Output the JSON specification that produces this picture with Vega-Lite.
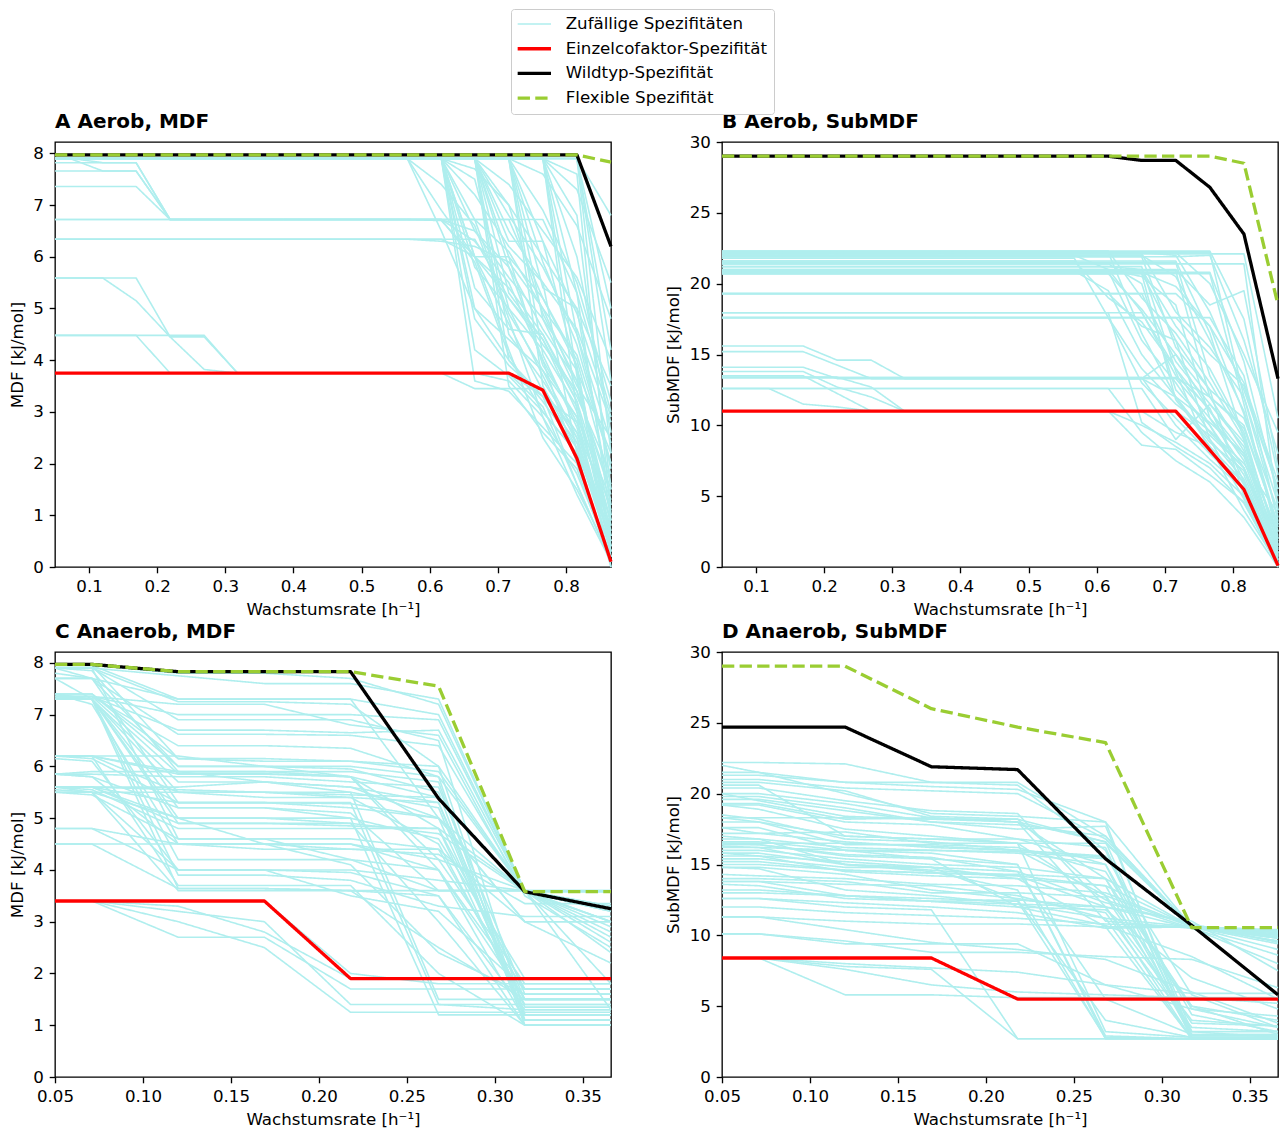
{
"$schema": "https://vega.github.io/schema/vega-lite/v6.json",
"padding": {"left": 8, "top": 8, "right": 2, "bottom": 2},
"config": {
  "font": "DejaVu Sans",
  "view": {"stroke": "black", "strokeWidth": 1.33},
  "axis": {"grid": false, "domain": false, "tickColor": "black", "tickWidth": 1.33, "tickSize": 5.8, "labelPadding": 5.8, "labelColor": "black", "titleColor": "black", "labelFontSize": 16.67, "titleFontSize": 16.67, "titleFontWeight": "normal", "labelFont": "DejaVu Sans", "titleFont": "DejaVu Sans", "titlePadding": 6.7, "labelFlush": false, "labelOverlap": false},
  "title": {"anchor": "start", "frame": "group", "fontSize": 20, "fontWeight": "bold", "font": "DejaVu Sans", "offset": 10, "baseline": "alphabetic", "color": "black"},
  "line": {"strokeJoin": "round", "strokeCap": "butt"}
},
"spacing": 1,
"resolve": {"scale": {"color": "shared", "strokeDash": "shared"}, "legend": {"color": "shared", "strokeDash": "shared"}},
"datasets": {
"A": [
{"s":1,"x":0.05,"y":7.91},{"s":1,"x":0.07,"y":7.91},{"s":1,"x":0.12,"y":7.66},{"s":1,"x":0.169,"y":7.66},{"s":1,"x":0.219,"y":6.72},{"s":1,"x":0.617,"y":6.72},{"s":1,"x":0.666,"y":5.9},{"s":1,"x":0.716,"y":4.1},{"s":1,"x":0.766,"y":3.0},{"s":1,"x":0.816,"y":2.2},{"s":1,"x":0.866,"y":0.6},
{"s":2,"x":0.05,"y":7.91},{"s":2,"x":0.07,"y":7.91},{"s":2,"x":0.12,"y":7.82},{"s":2,"x":0.169,"y":7.82},{"s":2,"x":0.219,"y":6.72},{"s":2,"x":0.567,"y":6.72},{"s":2,"x":0.617,"y":6.7},{"s":2,"x":0.666,"y":6.0},{"s":2,"x":0.716,"y":5.2},{"s":2,"x":0.766,"y":4.3},{"s":2,"x":0.816,"y":3.4},{"s":2,"x":0.866,"y":1.5},
{"s":3,"x":0.05,"y":7.82},{"s":3,"x":0.169,"y":7.82},{"s":3,"x":0.219,"y":6.72},{"s":3,"x":0.666,"y":6.72},{"s":3,"x":0.716,"y":6.1},{"s":3,"x":0.766,"y":5.0},{"s":3,"x":0.816,"y":4.1},{"s":3,"x":0.866,"y":2.0},
{"s":4,"x":0.05,"y":7.66},{"s":4,"x":0.169,"y":7.66},{"s":4,"x":0.219,"y":6.72},{"s":4,"x":0.766,"y":6.72},{"s":4,"x":0.816,"y":5.3},{"s":4,"x":0.866,"y":3.0},
{"s":5,"x":0.05,"y":7.36},{"s":5,"x":0.169,"y":7.36},{"s":5,"x":0.219,"y":6.72},{"s":5,"x":0.617,"y":6.72},{"s":5,"x":0.666,"y":6.5},{"s":5,"x":0.716,"y":5.8},{"s":5,"x":0.766,"y":4.6},{"s":5,"x":0.816,"y":3.6},{"s":5,"x":0.866,"y":1.0},
{"s":6,"x":0.05,"y":6.72},{"s":6,"x":0.617,"y":6.72},{"s":6,"x":0.666,"y":6.3},{"s":6,"x":0.716,"y":5.5},{"s":6,"x":0.766,"y":4.0},{"s":6,"x":0.816,"y":2.8},{"s":6,"x":0.866,"y":0.4},
{"s":7,"x":0.05,"y":6.34},{"s":7,"x":0.567,"y":6.34},{"s":7,"x":0.617,"y":6.3},{"s":7,"x":0.666,"y":6.2},{"s":7,"x":0.716,"y":5.9},{"s":7,"x":0.766,"y":5.0},{"s":7,"x":0.816,"y":3.5},{"s":7,"x":0.866,"y":2.5},
{"s":8,"x":0.05,"y":6.34},{"s":8,"x":0.617,"y":6.34},{"s":8,"x":0.666,"y":6.0},{"s":8,"x":0.716,"y":4.7},{"s":8,"x":0.766,"y":3.4},{"s":8,"x":0.816,"y":2.6},{"s":8,"x":0.866,"y":1.2},
{"s":9,"x":0.05,"y":5.59},{"s":9,"x":0.12,"y":5.59},{"s":9,"x":0.169,"y":5.15},{"s":9,"x":0.219,"y":4.45},{"s":9,"x":0.269,"y":4.45},{"s":9,"x":0.318,"y":3.75},{"s":9,"x":0.617,"y":3.75},{"s":9,"x":0.666,"y":3.45},{"s":9,"x":0.766,"y":3.45},{"s":9,"x":0.816,"y":2.5},{"s":9,"x":0.866,"y":0.3},
{"s":10,"x":0.05,"y":5.59},{"s":10,"x":0.169,"y":5.59},{"s":10,"x":0.219,"y":4.45},{"s":10,"x":0.269,"y":3.82},{"s":10,"x":0.318,"y":3.75},{"s":10,"x":0.666,"y":3.75},{"s":10,"x":0.716,"y":3.6},{"s":10,"x":0.766,"y":2.9},{"s":10,"x":0.816,"y":1.8},{"s":10,"x":0.866,"y":0.2},
{"s":11,"x":0.05,"y":4.48},{"s":11,"x":0.169,"y":4.48},{"s":11,"x":0.219,"y":3.75},{"s":11,"x":0.716,"y":3.75},{"s":11,"x":0.766,"y":3.3},{"s":11,"x":0.816,"y":2.4},{"s":11,"x":0.866,"y":0.8},
{"s":12,"x":0.05,"y":4.48},{"s":12,"x":0.269,"y":4.48},{"s":12,"x":0.318,"y":3.75},{"s":12,"x":0.716,"y":3.75},{"s":12,"x":0.766,"y":3.1},{"s":12,"x":0.816,"y":1.6},{"s":12,"x":0.866,"y":0.1},
{"s":13,"x":0.05,"y":7.9},{"s":13,"x":0.567,"y":7.9},{"s":13,"x":0.617,"y":6.5},{"s":13,"x":0.666,"y":5.0},{"s":13,"x":0.716,"y":4.0},{"s":13,"x":0.766,"y":3.2},{"s":13,"x":0.816,"y":2.3},{"s":13,"x":0.866,"y":0.5},
{"s":14,"x":0.05,"y":7.9},{"s":14,"x":0.567,"y":7.9},{"s":14,"x":0.617,"y":6.9},{"s":14,"x":0.666,"y":6.0},{"s":14,"x":0.716,"y":5.4},{"s":14,"x":0.766,"y":4.5},{"s":14,"x":0.816,"y":3.3},{"s":14,"x":0.866,"y":1.8},
{"s":15,"x":0.05,"y":7.9},{"s":15,"x":0.617,"y":7.9},{"s":15,"x":0.666,"y":3.6},{"s":15,"x":0.716,"y":3.4},{"s":15,"x":0.766,"y":2.7},{"s":15,"x":0.816,"y":2.0},{"s":15,"x":0.866,"y":0.2},
{"s":16,"x":0.05,"y":7.9},{"s":16,"x":0.617,"y":7.9},{"s":16,"x":0.666,"y":4.2},{"s":16,"x":0.716,"y":3.7},{"s":16,"x":0.766,"y":3.0},{"s":16,"x":0.816,"y":2.2},{"s":16,"x":0.866,"y":0.7},
{"s":17,"x":0.05,"y":7.9},{"s":17,"x":0.617,"y":7.9},{"s":17,"x":0.666,"y":5.0},{"s":17,"x":0.716,"y":4.4},{"s":17,"x":0.766,"y":3.8},{"s":17,"x":0.816,"y":2.9},{"s":17,"x":0.866,"y":1.3},
{"s":18,"x":0.05,"y":7.9},{"s":18,"x":0.617,"y":7.9},{"s":18,"x":0.666,"y":5.8},{"s":18,"x":0.716,"y":5.0},{"s":18,"x":0.766,"y":4.2},{"s":18,"x":0.816,"y":3.1},{"s":18,"x":0.866,"y":0.9},
{"s":19,"x":0.05,"y":7.9},{"s":19,"x":0.617,"y":7.9},{"s":19,"x":0.666,"y":6.5},{"s":19,"x":0.716,"y":5.6},{"s":19,"x":0.766,"y":4.8},{"s":19,"x":0.816,"y":3.8},{"s":19,"x":0.866,"y":2.2},
{"s":20,"x":0.05,"y":7.9},{"s":20,"x":0.617,"y":7.9},{"s":20,"x":0.666,"y":7.2},{"s":20,"x":0.716,"y":6.2},{"s":20,"x":0.766,"y":5.5},{"s":20,"x":0.816,"y":4.6},{"s":20,"x":0.866,"y":2.8},
{"s":21,"x":0.05,"y":7.9},{"s":21,"x":0.617,"y":7.9},{"s":21,"x":0.666,"y":7.7},{"s":21,"x":0.716,"y":7.0},{"s":21,"x":0.766,"y":6.0},{"s":21,"x":0.816,"y":5.0},{"s":21,"x":0.866,"y":3.5},
{"s":22,"x":0.05,"y":7.9},{"s":22,"x":0.666,"y":7.9},{"s":22,"x":0.716,"y":3.5},{"s":22,"x":0.766,"y":2.6},{"s":22,"x":0.816,"y":1.9},{"s":22,"x":0.866,"y":0.1},
{"s":23,"x":0.05,"y":7.9},{"s":23,"x":0.666,"y":7.9},{"s":23,"x":0.716,"y":4.5},{"s":23,"x":0.766,"y":3.6},{"s":23,"x":0.816,"y":2.6},{"s":23,"x":0.866,"y":0.5},
{"s":24,"x":0.05,"y":7.9},{"s":24,"x":0.666,"y":7.9},{"s":24,"x":0.716,"y":5.3},{"s":24,"x":0.766,"y":4.4},{"s":24,"x":0.816,"y":3.2},{"s":24,"x":0.866,"y":1.1},
{"s":25,"x":0.05,"y":7.9},{"s":25,"x":0.666,"y":7.9},{"s":25,"x":0.716,"y":6.0},{"s":25,"x":0.766,"y":5.2},{"s":25,"x":0.816,"y":4.0},{"s":25,"x":0.866,"y":1.6},
{"s":26,"x":0.05,"y":7.9},{"s":26,"x":0.666,"y":7.9},{"s":26,"x":0.716,"y":6.8},{"s":26,"x":0.766,"y":5.8},{"s":26,"x":0.816,"y":4.5},{"s":26,"x":0.866,"y":2.4},
{"s":27,"x":0.05,"y":7.9},{"s":27,"x":0.666,"y":7.9},{"s":27,"x":0.716,"y":7.4},{"s":27,"x":0.766,"y":6.5},{"s":27,"x":0.816,"y":5.6},{"s":27,"x":0.866,"y":4.0},
{"s":28,"x":0.05,"y":7.9},{"s":28,"x":0.716,"y":7.9},{"s":28,"x":0.766,"y":3.5},{"s":28,"x":0.816,"y":2.3},{"s":28,"x":0.866,"y":0.3},
{"s":29,"x":0.05,"y":7.9},{"s":29,"x":0.716,"y":7.9},{"s":29,"x":0.766,"y":4.8},{"s":29,"x":0.816,"y":3.4},{"s":29,"x":0.866,"y":1.4},
{"s":30,"x":0.05,"y":7.9},{"s":30,"x":0.716,"y":7.9},{"s":30,"x":0.766,"y":5.9},{"s":30,"x":0.816,"y":4.3},{"s":30,"x":0.866,"y":2.0},
{"s":31,"x":0.05,"y":7.9},{"s":31,"x":0.716,"y":7.9},{"s":31,"x":0.766,"y":6.9},{"s":31,"x":0.816,"y":5.5},{"s":31,"x":0.866,"y":3.2},
{"s":32,"x":0.05,"y":7.9},{"s":32,"x":0.716,"y":7.9},{"s":32,"x":0.766,"y":7.6},{"s":32,"x":0.816,"y":6.6},{"s":32,"x":0.866,"y":4.8},
{"s":33,"x":0.05,"y":7.9},{"s":33,"x":0.766,"y":7.9},{"s":33,"x":0.816,"y":3.0},{"s":33,"x":0.866,"y":0.6},
{"s":34,"x":0.05,"y":7.9},{"s":34,"x":0.766,"y":7.9},{"s":34,"x":0.816,"y":4.5},{"s":34,"x":0.866,"y":1.9},
{"s":35,"x":0.05,"y":7.9},{"s":35,"x":0.766,"y":7.9},{"s":35,"x":0.816,"y":6.0},{"s":35,"x":0.866,"y":2.6},
{"s":36,"x":0.05,"y":7.9},{"s":36,"x":0.766,"y":7.9},{"s":36,"x":0.816,"y":7.3},{"s":36,"x":0.866,"y":5.5},
{"s":37,"x":0.05,"y":7.9},{"s":37,"x":0.816,"y":7.9},{"s":37,"x":0.866,"y":6.8},
{"s":38,"x":0.05,"y":7.9},{"s":38,"x":0.816,"y":7.9},{"s":38,"x":0.866,"y":4.2},
{"s":39,"x":0.05,"y":7.9},{"s":39,"x":0.766,"y":7.9},{"s":39,"x":0.816,"y":7.6},{"s":39,"x":0.866,"y":1.0},
{"s":40,"x":0.05,"y":7.9},{"s":40,"x":0.617,"y":7.9},{"s":40,"x":0.666,"y":6.72},{"s":40,"x":0.716,"y":6.72},{"s":40,"x":0.766,"y":5.2},{"s":40,"x":0.816,"y":3.9},{"s":40,"x":0.866,"y":0.4},
{"s":41,"x":0.05,"y":7.9},{"s":41,"x":0.666,"y":7.9},{"s":41,"x":0.716,"y":6.3},{"s":41,"x":0.766,"y":6.3},{"s":41,"x":0.816,"y":4.9},{"s":41,"x":0.866,"y":2.9},
{"s":42,"x":0.05,"y":7.9},{"s":42,"x":0.617,"y":7.9},{"s":42,"x":0.666,"y":6.0},{"s":42,"x":0.716,"y":6.0},{"s":42,"x":0.766,"y":3.9},{"s":42,"x":0.816,"y":2.9},{"s":42,"x":0.866,"y":0.0},
{"s":43,"x":0.05,"y":7.9},{"s":43,"x":0.617,"y":7.9},{"s":43,"x":0.666,"y":4.8},{"s":43,"x":0.716,"y":3.9},{"s":43,"x":0.766,"y":3.3},{"s":43,"x":0.816,"y":1.6},{"s":43,"x":0.866,"y":0.1},
{"s":44,"x":0.05,"y":7.9},{"s":44,"x":0.617,"y":7.9},{"s":44,"x":0.666,"y":6.0},{"s":44,"x":0.716,"y":4.2},{"s":44,"x":0.766,"y":2.5},{"s":44,"x":0.816,"y":1.5},{"s":44,"x":0.866,"y":0.2},
{"s":45,"x":0.05,"y":7.9},{"s":45,"x":0.617,"y":7.9},{"s":45,"x":0.666,"y":7.5},{"s":45,"x":0.716,"y":5.0},{"s":45,"x":0.766,"y":3.7},{"s":45,"x":0.816,"y":2.4},{"s":45,"x":0.866,"y":0.3},
{"s":46,"x":0.05,"y":7.9},{"s":46,"x":0.666,"y":7.9},{"s":46,"x":0.716,"y":5.8},{"s":46,"x":0.766,"y":4.0},{"s":46,"x":0.816,"y":2.0},{"s":46,"x":0.866,"y":0.2},
{"s":47,"x":0.05,"y":7.9},{"s":47,"x":0.666,"y":7.9},{"s":47,"x":0.716,"y":4.0},{"s":47,"x":0.766,"y":3.3},{"s":47,"x":0.816,"y":2.8},{"s":47,"x":0.866,"y":0.9},
{"s":48,"x":0.05,"y":7.9},{"s":48,"x":0.666,"y":7.9},{"s":48,"x":0.716,"y":7.0},{"s":48,"x":0.766,"y":4.9},{"s":48,"x":0.816,"y":3.6},{"s":48,"x":0.866,"y":0.8},
{"s":49,"x":0.05,"y":7.9},{"s":49,"x":0.716,"y":7.9},{"s":49,"x":0.766,"y":4.1},{"s":49,"x":0.816,"y":2.7},{"s":49,"x":0.866,"y":0.4},
{"s":50,"x":0.05,"y":7.9},{"s":50,"x":0.716,"y":7.9},{"s":50,"x":0.766,"y":6.3},{"s":50,"x":0.816,"y":3.8},{"s":50,"x":0.866,"y":0.6},
{"s":51,"x":0.05,"y":7.9},{"s":51,"x":0.716,"y":7.9},{"s":51,"x":0.766,"y":5.4},{"s":51,"x":0.816,"y":5.0},{"s":51,"x":0.866,"y":1.2},
{"s":52,"x":0.05,"y":7.9},{"s":52,"x":0.766,"y":7.9},{"s":52,"x":0.816,"y":3.7},{"s":52,"x":0.866,"y":0.2},
{"s":53,"x":0.05,"y":7.9},{"s":53,"x":0.766,"y":7.9},{"s":53,"x":0.816,"y":5.3},{"s":53,"x":0.866,"y":0.9},
{"s":54,"x":0.05,"y":7.9},{"s":54,"x":0.766,"y":7.9},{"s":54,"x":0.816,"y":6.8},{"s":54,"x":0.866,"y":1.5},
{"s":55,"x":0.05,"y":7.9},{"s":55,"x":0.816,"y":7.9},{"s":55,"x":0.866,"y":2.2},
{"s":56,"x":0.05,"y":7.9},{"s":56,"x":0.816,"y":7.9},{"s":56,"x":0.866,"y":3.6},
{"s":57,"x":0.05,"y":7.9},{"s":57,"x":0.816,"y":7.9},{"s":57,"x":0.866,"y":5.0},
{"s":58,"x":0.05,"y":7.9},{"s":58,"x":0.567,"y":7.9},{"s":58,"x":0.617,"y":7.4},{"s":58,"x":0.666,"y":6.6},{"s":58,"x":0.716,"y":4.8},{"s":58,"x":0.766,"y":2.9},{"s":58,"x":0.816,"y":1.4},{"s":58,"x":0.866,"y":0.1},
{"s":59,"x":0.05,"y":6.72},{"s":59,"x":0.666,"y":6.72},{"s":59,"x":0.716,"y":4.9},{"s":59,"x":0.766,"y":3.8},{"s":59,"x":0.816,"y":2.5},{"s":59,"x":0.866,"y":0.5},
{"s":60,"x":0.05,"y":6.34},{"s":60,"x":0.666,"y":6.34},{"s":60,"x":0.716,"y":5.2},{"s":60,"x":0.766,"y":4.4},{"s":60,"x":0.816,"y":3.0},{"s":60,"x":0.866,"y":0.7},
{"s":61,"x":0.05,"y":7.9},{"s":61,"x":0.617,"y":7.9},{"s":61,"x":0.666,"y":5.4},{"s":61,"x":0.716,"y":4.6},{"s":61,"x":0.766,"y":4.5},{"s":61,"x":0.816,"y":3.2},{"s":61,"x":0.866,"y":0.3},
{"s":62,"x":0.05,"y":7.9},{"s":62,"x":0.666,"y":7.9},{"s":62,"x":0.716,"y":6.5},{"s":62,"x":0.766,"y":5.5},{"s":62,"x":0.816,"y":2.2},{"s":62,"x":0.866,"y":0.0}
],
"As": [
{"t":"E","x":0.05,"y":3.75},{"t":"E","x":0.716,"y":3.75},{"t":"E","x":0.766,"y":3.42},{"t":"E","x":0.816,"y":2.1},{"t":"E","x":0.866,"y":0.1},
{"t":"W","x":0.05,"y":7.97},{"t":"W","x":0.816,"y":7.97},{"t":"W","x":0.866,"y":6.2},
{"t":"F","x":0.05,"y":7.97},{"t":"F","x":0.816,"y":7.97},{"t":"F","x":0.866,"y":7.83}
],
"B": [
{"s":1,"x":0.05,"y":22.3},{"s":1,"x":0.617,"y":22.3},{"s":1,"x":0.666,"y":19.0},{"s":1,"x":0.716,"y":16.5},{"s":1,"x":0.766,"y":13.0},{"s":1,"x":0.816,"y":9.0},{"s":1,"x":0.866,"y":2.0},
{"s":2,"x":0.05,"y":22.1},{"s":2,"x":0.666,"y":22.1},{"s":2,"x":0.716,"y":18.0},{"s":2,"x":0.766,"y":15.5},{"s":2,"x":0.816,"y":12.0},{"s":2,"x":0.866,"y":4.5},
{"s":3,"x":0.05,"y":21.9},{"s":3,"x":0.716,"y":21.9},{"s":3,"x":0.766,"y":22.0},{"s":3,"x":0.816,"y":16.0},{"s":3,"x":0.866,"y":8.0},
{"s":4,"x":0.05,"y":21.6},{"s":4,"x":0.567,"y":21.6},{"s":4,"x":0.617,"y":19.0},{"s":4,"x":0.666,"y":17.3},{"s":4,"x":0.716,"y":14.0},{"s":4,"x":0.766,"y":11.0},{"s":4,"x":0.816,"y":7.5},{"s":4,"x":0.866,"y":1.0},
{"s":5,"x":0.05,"y":21.4},{"s":5,"x":0.617,"y":21.4},{"s":5,"x":0.666,"y":20.0},{"s":5,"x":0.716,"y":12.5},{"s":5,"x":0.766,"y":10.0},{"s":5,"x":0.816,"y":6.5},{"s":5,"x":0.866,"y":0.5},
{"s":6,"x":0.05,"y":20.9},{"s":6,"x":0.617,"y":20.9},{"s":6,"x":0.666,"y":16.0},{"s":6,"x":0.716,"y":13.0},{"s":6,"x":0.766,"y":9.5},{"s":6,"x":0.816,"y":7.0},{"s":6,"x":0.866,"y":1.5},
{"s":7,"x":0.05,"y":20.8},{"s":7,"x":0.666,"y":20.8},{"s":7,"x":0.716,"y":19.8},{"s":7,"x":0.766,"y":17.0},{"s":7,"x":0.816,"y":13.0},{"s":7,"x":0.866,"y":6.0},
{"s":8,"x":0.05,"y":20.7},{"s":8,"x":0.617,"y":20.7},{"s":8,"x":0.666,"y":18.2},{"s":8,"x":0.716,"y":15.0},{"s":8,"x":0.766,"y":12.0},{"s":8,"x":0.816,"y":10.0},{"s":8,"x":0.866,"y":3.0},
{"s":9,"x":0.05,"y":19.3},{"s":9,"x":0.666,"y":19.3},{"s":9,"x":0.716,"y":14.5},{"s":9,"x":0.766,"y":11.5},{"s":9,"x":0.816,"y":8.5},{"s":9,"x":0.866,"y":1.2},
{"s":10,"x":0.05,"y":17.95},{"s":10,"x":0.617,"y":17.95},{"s":10,"x":0.666,"y":10.2},{"s":10,"x":0.716,"y":8.5},{"s":10,"x":0.766,"y":7.0},{"s":10,"x":0.816,"y":4.5},{"s":10,"x":0.866,"y":0.2},
{"s":11,"x":0.05,"y":17.6},{"s":11,"x":0.617,"y":17.6},{"s":11,"x":0.666,"y":13.0},{"s":11,"x":0.716,"y":10.5},{"s":11,"x":0.766,"y":8.0},{"s":11,"x":0.816,"y":6.0},{"s":11,"x":0.866,"y":0.8},
{"s":12,"x":0.05,"y":15.6},{"s":12,"x":0.169,"y":15.6},{"s":12,"x":0.219,"y":14.6},{"s":12,"x":0.269,"y":14.6},{"s":12,"x":0.318,"y":13.3},{"s":12,"x":0.666,"y":13.3},{"s":12,"x":0.716,"y":12.0},{"s":12,"x":0.766,"y":9.0},{"s":12,"x":0.816,"y":6.2},{"s":12,"x":0.866,"y":0.3},
{"s":13,"x":0.05,"y":15.2},{"s":13,"x":0.169,"y":15.2},{"s":13,"x":0.269,"y":13.3},{"s":13,"x":0.666,"y":13.3},{"s":13,"x":0.716,"y":15.0},{"s":13,"x":0.766,"y":11.0},{"s":13,"x":0.816,"y":8.0},{"s":13,"x":0.866,"y":2.5},
{"s":14,"x":0.05,"y":14.1},{"s":14,"x":0.169,"y":14.1},{"s":14,"x":0.219,"y":13.3},{"s":14,"x":0.716,"y":13.3},{"s":14,"x":0.766,"y":10.5},{"s":14,"x":0.816,"y":7.8},{"s":14,"x":0.866,"y":1.8},
{"s":15,"x":0.05,"y":13.8},{"s":15,"x":0.169,"y":13.8},{"s":15,"x":0.219,"y":12.7},{"s":15,"x":0.269,"y":12.0},{"s":15,"x":0.318,"y":11.0},{"s":15,"x":0.617,"y":11.0},{"s":15,"x":0.666,"y":10.0},{"s":15,"x":0.716,"y":8.8},{"s":15,"x":0.766,"y":7.3},{"s":15,"x":0.816,"y":5.0},{"s":15,"x":0.866,"y":0.1},
{"s":16,"x":0.05,"y":13.5},{"s":16,"x":0.169,"y":13.5},{"s":16,"x":0.269,"y":11.0},{"s":16,"x":0.666,"y":11.0},{"s":16,"x":0.716,"y":9.5},{"s":16,"x":0.766,"y":8.5},{"s":16,"x":0.816,"y":6.0},{"s":16,"x":0.866,"y":0.6},
{"s":17,"x":0.05,"y":13.4},{"s":17,"x":0.219,"y":13.4},{"s":17,"x":0.269,"y":12.7},{"s":17,"x":0.318,"y":11.0},{"s":17,"x":0.716,"y":11.0},{"s":17,"x":0.766,"y":9.3},{"s":17,"x":0.816,"y":7.0},{"s":17,"x":0.866,"y":1.0},
{"s":18,"x":0.05,"y":12.6},{"s":18,"x":0.119,"y":12.6},{"s":18,"x":0.169,"y":11.5},{"s":18,"x":0.219,"y":11.3},{"s":18,"x":0.269,"y":11.0},{"s":18,"x":0.617,"y":11.0},{"s":18,"x":0.666,"y":8.6},{"s":18,"x":0.716,"y":8.3},{"s":18,"x":0.766,"y":6.5},{"s":18,"x":0.816,"y":4.6},{"s":18,"x":0.866,"y":0.0},
{"s":19,"x":0.05,"y":13.37},{"s":19,"x":0.666,"y":13.37},{"s":19,"x":0.716,"y":10.0},{"s":19,"x":0.766,"y":7.6},{"s":19,"x":0.816,"y":5.5},{"s":19,"x":0.866,"y":0.4},
{"s":20,"x":0.05,"y":12.6},{"s":20,"x":0.666,"y":12.6},{"s":20,"x":0.716,"y":9.0},{"s":20,"x":0.766,"y":11.5},{"s":20,"x":0.816,"y":8.8},{"s":20,"x":0.866,"y":2.2},
{"s":21,"x":0.05,"y":22.2},{"s":21,"x":0.766,"y":22.2},{"s":21,"x":0.816,"y":12.0},{"s":21,"x":0.866,"y":3.5},
{"s":22,"x":0.05,"y":21.0},{"s":22,"x":0.716,"y":21.0},{"s":22,"x":0.766,"y":18.5},{"s":22,"x":0.816,"y":19.5},{"s":22,"x":0.866,"y":7.0},
{"s":23,"x":0.05,"y":20.8},{"s":23,"x":0.766,"y":20.8},{"s":23,"x":0.816,"y":14.5},{"s":23,"x":0.866,"y":5.0},
{"s":24,"x":0.05,"y":22.0},{"s":24,"x":0.666,"y":22.0},{"s":24,"x":0.716,"y":20.5},{"s":24,"x":0.766,"y":16.0},{"s":24,"x":0.816,"y":11.0},{"s":24,"x":0.866,"y":2.8},
{"s":25,"x":0.05,"y":21.2},{"s":25,"x":0.617,"y":21.2},{"s":25,"x":0.666,"y":21.0},{"s":25,"x":0.716,"y":17.0},{"s":25,"x":0.766,"y":14.0},{"s":25,"x":0.816,"y":9.5},{"s":25,"x":0.866,"y":1.5},
{"s":26,"x":0.05,"y":20.9},{"s":26,"x":0.567,"y":20.9},{"s":26,"x":0.617,"y":19.5},{"s":26,"x":0.666,"y":15.0},{"s":26,"x":0.716,"y":12.0},{"s":26,"x":0.766,"y":10.2},{"s":26,"x":0.816,"y":8.0},{"s":26,"x":0.866,"y":0.9},
{"s":27,"x":0.05,"y":21.8},{"s":27,"x":0.567,"y":21.8},{"s":27,"x":0.617,"y":17.6},{"s":27,"x":0.666,"y":14.0},{"s":27,"x":0.716,"y":11.5},{"s":27,"x":0.766,"y":9.6},{"s":27,"x":0.816,"y":7.3},{"s":27,"x":0.866,"y":3.8},
{"s":28,"x":0.05,"y":22.2},{"s":28,"x":0.716,"y":22.2},{"s":28,"x":0.766,"y":20.0},{"s":28,"x":0.816,"y":15.0},{"s":28,"x":0.866,"y":9.5},
{"s":29,"x":0.05,"y":19.3},{"s":29,"x":0.617,"y":19.3},{"s":29,"x":0.666,"y":17.0},{"s":29,"x":0.716,"y":16.0},{"s":29,"x":0.766,"y":12.5},{"s":29,"x":0.816,"y":10.5},{"s":29,"x":0.866,"y":4.0},
{"s":30,"x":0.05,"y":17.6},{"s":30,"x":0.716,"y":17.6},{"s":30,"x":0.766,"y":15.0},{"s":30,"x":0.816,"y":12.8},{"s":30,"x":0.866,"y":5.5},
{"s":31,"x":0.05,"y":20.7},{"s":31,"x":0.666,"y":20.7},{"s":31,"x":0.716,"y":11.8},{"s":31,"x":0.766,"y":8.8},{"s":31,"x":0.816,"y":6.8},{"s":31,"x":0.866,"y":0.7},
{"s":32,"x":0.05,"y":21.5},{"s":32,"x":0.716,"y":21.5},{"s":32,"x":0.766,"y":13.5},{"s":32,"x":0.816,"y":9.3},{"s":32,"x":0.866,"y":1.6},
{"s":33,"x":0.05,"y":22.2},{"s":33,"x":0.617,"y":22.2},{"s":33,"x":0.666,"y":16.5},{"s":33,"x":0.716,"y":12.0},{"s":33,"x":0.766,"y":8.5},{"s":33,"x":0.816,"y":4.0},{"s":33,"x":0.866,"y":0.2},
{"s":34,"x":0.05,"y":21.9},{"s":34,"x":0.666,"y":21.9},{"s":34,"x":0.716,"y":15.5},{"s":34,"x":0.766,"y":12.5},{"s":34,"x":0.816,"y":5.0},{"s":34,"x":0.866,"y":0.3},
{"s":35,"x":0.05,"y":21.6},{"s":35,"x":0.716,"y":21.6},{"s":35,"x":0.766,"y":16.5},{"s":35,"x":0.816,"y":9.0},{"s":35,"x":0.866,"y":0.8},
{"s":36,"x":0.05,"y":21.0},{"s":36,"x":0.617,"y":21.0},{"s":36,"x":0.666,"y":20.5},{"s":36,"x":0.716,"y":18.5},{"s":36,"x":0.766,"y":10.5},{"s":36,"x":0.816,"y":7.0},{"s":36,"x":0.866,"y":1.0},
{"s":37,"x":0.05,"y":20.8},{"s":37,"x":0.666,"y":20.8},{"s":37,"x":0.716,"y":16.0},{"s":37,"x":0.766,"y":9.0},{"s":37,"x":0.816,"y":4.8},{"s":37,"x":0.866,"y":0.1},
{"s":38,"x":0.05,"y":19.3},{"s":38,"x":0.716,"y":19.3},{"s":38,"x":0.766,"y":17.0},{"s":38,"x":0.816,"y":10.8},{"s":38,"x":0.866,"y":2.5},
{"s":39,"x":0.05,"y":17.95},{"s":39,"x":0.666,"y":17.95},{"s":39,"x":0.716,"y":14.0},{"s":39,"x":0.766,"y":10.0},{"s":39,"x":0.816,"y":5.8},{"s":39,"x":0.866,"y":0.5},
{"s":40,"x":0.05,"y":17.6},{"s":40,"x":0.766,"y":17.6},{"s":40,"x":0.816,"y":13.5},{"s":40,"x":0.866,"y":3.2},
{"s":41,"x":0.05,"y":22.3},{"s":41,"x":0.766,"y":22.3},{"s":41,"x":0.816,"y":17.5},{"s":41,"x":0.866,"y":6.5},
{"s":42,"x":0.05,"y":22.1},{"s":42,"x":0.816,"y":22.1},{"s":42,"x":0.866,"y":10.5},
{"s":43,"x":0.05,"y":21.4},{"s":43,"x":0.816,"y":21.4},{"s":43,"x":0.866,"y":4.0},
{"s":44,"x":0.05,"y":20.9},{"s":44,"x":0.716,"y":20.9},{"s":44,"x":0.766,"y":12.0},{"s":44,"x":0.816,"y":8.2},{"s":44,"x":0.866,"y":1.3},
{"s":45,"x":0.05,"y":21.2},{"s":45,"x":0.666,"y":21.2},{"s":45,"x":0.716,"y":13.8},{"s":45,"x":0.766,"y":8.0},{"s":45,"x":0.816,"y":5.6},{"s":45,"x":0.866,"y":0.2},
{"s":46,"x":0.05,"y":13.37},{"s":46,"x":0.716,"y":13.37},{"s":46,"x":0.766,"y":12.0},{"s":46,"x":0.816,"y":9.8},{"s":46,"x":0.866,"y":3.0},
{"s":47,"x":0.05,"y":12.6},{"s":47,"x":0.617,"y":12.6},{"s":47,"x":0.666,"y":9.5},{"s":47,"x":0.716,"y":7.5},{"s":47,"x":0.766,"y":6.0},{"s":47,"x":0.816,"y":3.5},{"s":47,"x":0.866,"y":0.0},
{"s":48,"x":0.05,"y":22.0},{"s":48,"x":0.567,"y":22.0},{"s":48,"x":0.617,"y":21.0},{"s":48,"x":0.666,"y":18.0},{"s":48,"x":0.716,"y":13.5},{"s":48,"x":0.766,"y":11.2},{"s":48,"x":0.816,"y":6.0},{"s":48,"x":0.866,"y":0.5},
{"s":49,"x":0.05,"y":20.7},{"s":49,"x":0.766,"y":20.7},{"s":49,"x":0.816,"y":11.5},{"s":49,"x":0.866,"y":2.0},
{"s":50,"x":0.05,"y":22.2},{"s":50,"x":0.666,"y":22.2},{"s":50,"x":0.716,"y":22.0},{"s":50,"x":0.766,"y":18.0},{"s":50,"x":0.816,"y":12.5},{"s":50,"x":0.866,"y":5.5}
],
"Bs": [
{"t":"E","x":0.05,"y":11.0},{"t":"E","x":0.716,"y":11.0},{"t":"E","x":0.766,"y":8.25},{"t":"E","x":0.816,"y":5.47},{"t":"E","x":0.866,"y":0.1},
{"t":"W","x":0.05,"y":29.0},{"t":"W","x":0.617,"y":29.0},{"t":"W","x":0.666,"y":28.7},{"t":"W","x":0.716,"y":28.7},{"t":"W","x":0.766,"y":26.8},{"t":"W","x":0.816,"y":23.5},{"t":"W","x":0.866,"y":13.3},
{"t":"F","x":0.05,"y":29.0},{"t":"F","x":0.766,"y":29.0},{"t":"F","x":0.816,"y":28.5},{"t":"F","x":0.866,"y":18.5}
],
"C": [
{"s":1,"x":0.05,"y":7.95},{"s":1,"x":0.071,"y":7.95},{"s":1,"x":0.12,"y":7.3},{"s":1,"x":0.169,"y":7.3},{"s":1,"x":0.218,"y":7.3},{"s":1,"x":0.268,"y":5.0},{"s":1,"x":0.317,"y":3.58},{"s":1,"x":0.366,"y":3.0},
{"s":2,"x":0.05,"y":7.9},{"s":2,"x":0.071,"y":7.9},{"s":2,"x":0.12,"y":7.25},{"s":2,"x":0.169,"y":7.25},{"s":2,"x":0.218,"y":7.2},{"s":2,"x":0.268,"y":6.0},{"s":2,"x":0.317,"y":3.6},{"s":2,"x":0.366,"y":2.8},
{"s":3,"x":0.05,"y":7.9},{"s":3,"x":0.071,"y":7.7},{"s":3,"x":0.12,"y":7.3},{"s":3,"x":0.169,"y":7.3},{"s":3,"x":0.218,"y":7.3},{"s":3,"x":0.268,"y":7.0},{"s":3,"x":0.317,"y":3.6},{"s":3,"x":0.366,"y":3.3},
{"s":4,"x":0.05,"y":7.7},{"s":4,"x":0.071,"y":7.7},{"s":4,"x":0.12,"y":6.62},{"s":4,"x":0.169,"y":6.62},{"s":4,"x":0.218,"y":6.6},{"s":4,"x":0.268,"y":6.4},{"s":4,"x":0.317,"y":3.58},{"s":4,"x":0.366,"y":3.2},
{"s":5,"x":0.05,"y":7.4},{"s":5,"x":0.071,"y":7.4},{"s":5,"x":0.12,"y":6.15},{"s":5,"x":0.169,"y":6.15},{"s":5,"x":0.218,"y":6.1},{"s":5,"x":0.268,"y":5.9},{"s":5,"x":0.317,"y":3.6},{"s":5,"x":0.366,"y":3.58},
{"s":6,"x":0.05,"y":7.35},{"s":6,"x":0.071,"y":7.35},{"s":6,"x":0.12,"y":5.86},{"s":6,"x":0.169,"y":5.86},{"s":6,"x":0.218,"y":5.8},{"s":6,"x":0.268,"y":4.0},{"s":6,"x":0.317,"y":1.7},{"s":6,"x":0.366,"y":1.7},
{"s":7,"x":0.05,"y":7.35},{"s":7,"x":0.071,"y":7.3},{"s":7,"x":0.12,"y":5.5},{"s":7,"x":0.169,"y":5.5},{"s":7,"x":0.218,"y":5.5},{"s":7,"x":0.268,"y":5.2},{"s":7,"x":0.317,"y":1.2},{"s":7,"x":0.366,"y":1.2},
{"s":8,"x":0.05,"y":7.3},{"s":8,"x":0.071,"y":7.3},{"s":8,"x":0.12,"y":4.9},{"s":8,"x":0.169,"y":4.9},{"s":8,"x":0.218,"y":4.85},{"s":8,"x":0.268,"y":4.8},{"s":8,"x":0.317,"y":3.6},{"s":8,"x":0.366,"y":2.6},
{"s":9,"x":0.05,"y":7.3},{"s":9,"x":0.071,"y":7.3},{"s":9,"x":0.12,"y":3.64},{"s":9,"x":0.169,"y":3.64},{"s":9,"x":0.218,"y":3.6},{"s":9,"x":0.268,"y":3.5},{"s":9,"x":0.317,"y":1.0},{"s":9,"x":0.366,"y":1.0},
{"s":10,"x":0.05,"y":7.4},{"s":10,"x":0.071,"y":7.2},{"s":10,"x":0.12,"y":4.5},{"s":10,"x":0.169,"y":4.5},{"s":10,"x":0.218,"y":4.5},{"s":10,"x":0.268,"y":4.0},{"s":10,"x":0.317,"y":1.5},{"s":10,"x":0.366,"y":1.5},
{"s":11,"x":0.05,"y":7.95},{"s":11,"x":0.071,"y":7.95},{"s":11,"x":0.12,"y":6.15},{"s":11,"x":0.169,"y":6.1},{"s":11,"x":0.218,"y":6.1},{"s":11,"x":0.268,"y":6.0},{"s":11,"x":0.317,"y":1.1},{"s":11,"x":0.366,"y":1.1},
{"s":12,"x":0.05,"y":7.8},{"s":12,"x":0.071,"y":7.7},{"s":12,"x":0.12,"y":5.3},{"s":12,"x":0.169,"y":5.3},{"s":12,"x":0.218,"y":5.28},{"s":12,"x":0.268,"y":5.0},{"s":12,"x":0.317,"y":3.0},{"s":12,"x":0.366,"y":3.0},
{"s":13,"x":0.05,"y":7.35},{"s":13,"x":0.071,"y":7.35},{"s":13,"x":0.12,"y":6.7},{"s":13,"x":0.169,"y":6.7},{"s":13,"x":0.218,"y":6.65},{"s":13,"x":0.268,"y":6.7},{"s":13,"x":0.317,"y":3.6},{"s":13,"x":0.366,"y":2.4},
{"s":14,"x":0.05,"y":6.2},{"s":14,"x":0.071,"y":6.2},{"s":14,"x":0.12,"y":5.5},{"s":14,"x":0.169,"y":5.5},{"s":14,"x":0.218,"y":5.4},{"s":14,"x":0.268,"y":4.5},{"s":14,"x":0.317,"y":1.4},{"s":14,"x":0.366,"y":1.4},
{"s":15,"x":0.05,"y":6.15},{"s":15,"x":0.071,"y":6.1},{"s":15,"x":0.12,"y":4.0},{"s":15,"x":0.169,"y":4.0},{"s":15,"x":0.218,"y":3.95},{"s":15,"x":0.268,"y":3.5},{"s":15,"x":0.317,"y":1.3},{"s":15,"x":0.366,"y":1.3},
{"s":16,"x":0.05,"y":6.2},{"s":16,"x":0.071,"y":6.2},{"s":16,"x":0.12,"y":6.2},{"s":16,"x":0.169,"y":6.0},{"s":16,"x":0.218,"y":6.0},{"s":16,"x":0.268,"y":5.8},{"s":16,"x":0.317,"y":3.6},{"s":16,"x":0.366,"y":2.9},
{"s":17,"x":0.05,"y":5.85},{"s":17,"x":0.071,"y":5.85},{"s":17,"x":0.12,"y":5.8},{"s":17,"x":0.169,"y":5.8},{"s":17,"x":0.218,"y":5.7},{"s":17,"x":0.268,"y":5.6},{"s":17,"x":0.317,"y":1.6},{"s":17,"x":0.366,"y":1.6},
{"s":18,"x":0.05,"y":5.85},{"s":18,"x":0.071,"y":5.8},{"s":18,"x":0.12,"y":5.2},{"s":18,"x":0.169,"y":5.2},{"s":18,"x":0.218,"y":5.0},{"s":18,"x":0.268,"y":4.6},{"s":18,"x":0.317,"y":1.9},{"s":18,"x":0.366,"y":1.9},
{"s":19,"x":0.05,"y":5.6},{"s":19,"x":0.071,"y":5.6},{"s":19,"x":0.12,"y":5.55},{"s":19,"x":0.169,"y":5.5},{"s":19,"x":0.218,"y":5.45},{"s":19,"x":0.268,"y":5.4},{"s":19,"x":0.317,"y":3.6},{"s":19,"x":0.366,"y":1.8},
{"s":20,"x":0.05,"y":5.6},{"s":20,"x":0.071,"y":5.55},{"s":20,"x":0.12,"y":4.8},{"s":20,"x":0.169,"y":4.8},{"s":20,"x":0.218,"y":4.8},{"s":20,"x":0.268,"y":4.8},{"s":20,"x":0.317,"y":1.2},{"s":20,"x":0.366,"y":1.2},
{"s":21,"x":0.05,"y":5.55},{"s":21,"x":0.071,"y":5.5},{"s":21,"x":0.12,"y":3.6},{"s":21,"x":0.169,"y":3.6},{"s":21,"x":0.218,"y":3.6},{"s":21,"x":0.268,"y":3.6},{"s":21,"x":0.317,"y":3.6},{"s":21,"x":0.366,"y":2.7},
{"s":22,"x":0.05,"y":5.5},{"s":22,"x":0.071,"y":5.5},{"s":22,"x":0.12,"y":5.0},{"s":22,"x":0.169,"y":5.0},{"s":22,"x":0.218,"y":4.9},{"s":22,"x":0.268,"y":3.0},{"s":22,"x":0.317,"y":1.0},{"s":22,"x":0.366,"y":1.0},
{"s":23,"x":0.05,"y":4.8},{"s":23,"x":0.071,"y":4.8},{"s":23,"x":0.12,"y":4.5},{"s":23,"x":0.169,"y":4.5},{"s":23,"x":0.218,"y":4.4},{"s":23,"x":0.268,"y":4.4},{"s":23,"x":0.317,"y":3.0},{"s":23,"x":0.366,"y":3.0},
{"s":24,"x":0.05,"y":4.5},{"s":24,"x":0.071,"y":4.5},{"s":24,"x":0.12,"y":3.64},{"s":24,"x":0.169,"y":3.64},{"s":24,"x":0.218,"y":3.6},{"s":24,"x":0.268,"y":2.5},{"s":24,"x":0.317,"y":1.5},{"s":24,"x":0.366,"y":1.5},
{"s":25,"x":0.05,"y":4.5},{"s":25,"x":0.071,"y":4.5},{"s":25,"x":0.12,"y":4.5},{"s":25,"x":0.169,"y":4.4},{"s":25,"x":0.218,"y":4.4},{"s":25,"x":0.268,"y":4.3},{"s":25,"x":0.317,"y":3.35},{"s":25,"x":0.366,"y":3.35},
{"s":26,"x":0.05,"y":3.4},{"s":26,"x":0.071,"y":3.4},{"s":26,"x":0.12,"y":2.7},{"s":26,"x":0.169,"y":2.7},{"s":26,"x":0.218,"y":1.7},{"s":26,"x":0.268,"y":1.7},{"s":26,"x":0.317,"y":1.7},{"s":26,"x":0.366,"y":1.7},
{"s":27,"x":0.05,"y":3.4},{"s":27,"x":0.071,"y":3.4},{"s":27,"x":0.12,"y":3.2},{"s":27,"x":0.169,"y":3.0},{"s":27,"x":0.218,"y":1.4},{"s":27,"x":0.268,"y":1.4},{"s":27,"x":0.317,"y":1.3},{"s":27,"x":0.366,"y":1.3},
{"s":28,"x":0.05,"y":3.4},{"s":28,"x":0.071,"y":3.4},{"s":28,"x":0.12,"y":3.0},{"s":28,"x":0.169,"y":2.5},{"s":28,"x":0.218,"y":1.25},{"s":28,"x":0.268,"y":1.25},{"s":28,"x":0.317,"y":1.25},{"s":28,"x":0.366,"y":1.25},
{"s":29,"x":0.05,"y":3.4},{"s":29,"x":0.071,"y":3.4},{"s":29,"x":0.12,"y":3.3},{"s":29,"x":0.169,"y":2.8},{"s":29,"x":0.218,"y":1.9},{"s":29,"x":0.268,"y":1.9},{"s":29,"x":0.317,"y":1.9},{"s":29,"x":0.366,"y":1.9},
{"s":30,"x":0.05,"y":3.4},{"s":30,"x":0.071,"y":3.4},{"s":30,"x":0.12,"y":3.4},{"s":30,"x":0.169,"y":3.4},{"s":30,"x":0.218,"y":2.0},{"s":30,"x":0.268,"y":1.8},{"s":30,"x":0.317,"y":1.8},{"s":30,"x":0.366,"y":1.8},
{"s":31,"x":0.05,"y":7.95},{"s":31,"x":0.071,"y":7.95},{"s":31,"x":0.12,"y":7.8},{"s":31,"x":0.169,"y":7.8},{"s":31,"x":0.218,"y":7.7},{"s":31,"x":0.268,"y":7.2},{"s":31,"x":0.317,"y":3.6},{"s":31,"x":0.366,"y":1.3},
{"s":32,"x":0.05,"y":7.9},{"s":32,"x":0.071,"y":7.9},{"s":32,"x":0.12,"y":7.75},{"s":32,"x":0.169,"y":7.6},{"s":32,"x":0.218,"y":7.6},{"s":32,"x":0.268,"y":7.3},{"s":32,"x":0.317,"y":3.58},{"s":32,"x":0.366,"y":3.58},
{"s":33,"x":0.05,"y":7.35},{"s":33,"x":0.071,"y":7.35},{"s":33,"x":0.12,"y":7.2},{"s":33,"x":0.169,"y":7.2},{"s":33,"x":0.218,"y":6.8},{"s":33,"x":0.268,"y":6.6},{"s":33,"x":0.317,"y":3.5},{"s":33,"x":0.366,"y":2.5},
{"s":34,"x":0.05,"y":7.3},{"s":34,"x":0.071,"y":7.3},{"s":34,"x":0.12,"y":5.7},{"s":34,"x":0.169,"y":5.7},{"s":34,"x":0.218,"y":5.5},{"s":34,"x":0.268,"y":1.5},{"s":34,"x":0.317,"y":1.5},{"s":34,"x":0.366,"y":1.5},
{"s":35,"x":0.05,"y":7.7},{"s":35,"x":0.071,"y":7.3},{"s":35,"x":0.12,"y":4.2},{"s":35,"x":0.169,"y":4.2},{"s":35,"x":0.218,"y":4.2},{"s":35,"x":0.268,"y":4.0},{"s":35,"x":0.317,"y":1.1},{"s":35,"x":0.366,"y":1.1},
{"s":36,"x":0.05,"y":6.2},{"s":36,"x":0.071,"y":6.15},{"s":36,"x":0.12,"y":5.3},{"s":36,"x":0.169,"y":5.3},{"s":36,"x":0.218,"y":5.3},{"s":36,"x":0.268,"y":1.4},{"s":36,"x":0.317,"y":1.4},{"s":36,"x":0.366,"y":1.4},
{"s":37,"x":0.05,"y":5.6},{"s":37,"x":0.071,"y":5.6},{"s":37,"x":0.12,"y":5.6},{"s":37,"x":0.169,"y":5.7},{"s":37,"x":0.218,"y":5.6},{"s":37,"x":0.268,"y":5.0},{"s":37,"x":0.317,"y":3.0},{"s":37,"x":0.366,"y":2.2},
{"s":38,"x":0.05,"y":5.85},{"s":38,"x":0.071,"y":5.9},{"s":38,"x":0.12,"y":5.9},{"s":38,"x":0.169,"y":5.7},{"s":38,"x":0.218,"y":5.6},{"s":38,"x":0.268,"y":5.3},{"s":38,"x":0.317,"y":1.5},{"s":38,"x":0.366,"y":1.5},
{"s":39,"x":0.05,"y":5.6},{"s":39,"x":0.071,"y":5.5},{"s":39,"x":0.12,"y":4.0},{"s":39,"x":0.169,"y":4.0},{"s":39,"x":0.218,"y":4.0},{"s":39,"x":0.268,"y":3.8},{"s":39,"x":0.317,"y":3.6},{"s":39,"x":0.366,"y":3.6},
{"s":40,"x":0.05,"y":7.35},{"s":40,"x":0.071,"y":7.3},{"s":40,"x":0.12,"y":5.0},{"s":40,"x":0.169,"y":5.0},{"s":40,"x":0.218,"y":5.0},{"s":40,"x":0.268,"y":1.2},{"s":40,"x":0.317,"y":1.2},{"s":40,"x":0.366,"y":1.2},
{"s":41,"x":0.05,"y":7.4},{"s":41,"x":0.071,"y":7.4},{"s":41,"x":0.12,"y":6.0},{"s":41,"x":0.169,"y":6.0},{"s":41,"x":0.218,"y":5.95},{"s":41,"x":0.268,"y":5.5},{"s":41,"x":0.317,"y":1.0},{"s":41,"x":0.366,"y":1.0},
{"s":42,"x":0.05,"y":5.5},{"s":42,"x":0.071,"y":5.45},{"s":42,"x":0.12,"y":4.6},{"s":42,"x":0.169,"y":4.6},{"s":42,"x":0.218,"y":4.2},{"s":42,"x":0.268,"y":3.6},{"s":42,"x":0.317,"y":3.6},{"s":42,"x":0.366,"y":3.0},
{"s":43,"x":0.05,"y":4.8},{"s":43,"x":0.071,"y":4.8},{"s":43,"x":0.12,"y":4.0},{"s":43,"x":0.169,"y":4.0},{"s":43,"x":0.218,"y":3.5},{"s":43,"x":0.268,"y":3.2},{"s":43,"x":0.317,"y":1.7},{"s":43,"x":0.366,"y":1.7},
{"s":44,"x":0.05,"y":7.9},{"s":44,"x":0.071,"y":7.85},{"s":44,"x":0.12,"y":5.9},{"s":44,"x":0.169,"y":5.9},{"s":44,"x":0.218,"y":5.8},{"s":44,"x":0.268,"y":5.4},{"s":44,"x":0.317,"y":3.58},{"s":44,"x":0.366,"y":3.58},
{"s":45,"x":0.05,"y":7.3},{"s":45,"x":0.071,"y":7.3},{"s":45,"x":0.12,"y":3.9},{"s":45,"x":0.169,"y":3.9},{"s":45,"x":0.218,"y":3.8},{"s":45,"x":0.268,"y":3.3},{"s":45,"x":0.317,"y":3.1},{"s":45,"x":0.366,"y":3.1},
{"s":46,"x":0.05,"y":5.6},{"s":46,"x":0.071,"y":5.6},{"s":46,"x":0.12,"y":5.0},{"s":46,"x":0.169,"y":4.5},{"s":46,"x":0.218,"y":4.1},{"s":46,"x":0.268,"y":2.4},{"s":46,"x":0.317,"y":1.6},{"s":46,"x":0.366,"y":1.6},
{"s":47,"x":0.05,"y":6.2},{"s":47,"x":0.071,"y":6.2},{"s":47,"x":0.12,"y":5.85},{"s":47,"x":0.169,"y":5.85},{"s":47,"x":0.218,"y":5.8},{"s":47,"x":0.268,"y":4.2},{"s":47,"x":0.317,"y":1.8},{"s":47,"x":0.366,"y":1.8},
{"s":48,"x":0.05,"y":7.9},{"s":48,"x":0.071,"y":7.9},{"s":48,"x":0.12,"y":6.9},{"s":48,"x":0.169,"y":6.9},{"s":48,"x":0.218,"y":6.9},{"s":48,"x":0.268,"y":6.5},{"s":48,"x":0.317,"y":1.2},{"s":48,"x":0.366,"y":1.2},
{"s":49,"x":0.05,"y":7.35},{"s":49,"x":0.071,"y":7.35},{"s":49,"x":0.12,"y":6.4},{"s":49,"x":0.169,"y":6.4},{"s":49,"x":0.218,"y":6.35},{"s":49,"x":0.268,"y":5.8},{"s":49,"x":0.317,"y":1.0},{"s":49,"x":0.366,"y":1.0},
{"s":50,"x":0.05,"y":7.4},{"s":50,"x":0.071,"y":7.3},{"s":50,"x":0.12,"y":5.2},{"s":50,"x":0.169,"y":5.2},{"s":50,"x":0.218,"y":5.1},{"s":50,"x":0.268,"y":3.6},{"s":50,"x":0.317,"y":3.6},{"s":50,"x":0.366,"y":3.3},
{"s":51,"x":0.05,"y":6.2},{"s":51,"x":0.071,"y":6.2},{"s":51,"x":0.12,"y":5.9},{"s":51,"x":0.169,"y":5.9},{"s":51,"x":0.218,"y":5.9},{"s":51,"x":0.268,"y":5.7},{"s":51,"x":0.317,"y":1.1},{"s":51,"x":0.366,"y":1.1},
{"s":52,"x":0.05,"y":5.6},{"s":52,"x":0.071,"y":5.6},{"s":52,"x":0.12,"y":5.3},{"s":52,"x":0.169,"y":5.3},{"s":52,"x":0.218,"y":5.2},{"s":52,"x":0.268,"y":5.0},{"s":52,"x":0.317,"y":1.35},{"s":52,"x":0.366,"y":1.35},
{"s":53,"x":0.05,"y":5.85},{"s":53,"x":0.071,"y":5.8},{"s":53,"x":0.12,"y":4.5},{"s":53,"x":0.169,"y":4.5},{"s":53,"x":0.218,"y":4.5},{"s":53,"x":0.268,"y":4.2},{"s":53,"x":0.317,"y":3.6},{"s":53,"x":0.366,"y":3.0},
{"s":54,"x":0.05,"y":7.7},{"s":54,"x":0.071,"y":7.7},{"s":54,"x":0.12,"y":6.0},{"s":54,"x":0.169,"y":6.0},{"s":54,"x":0.218,"y":5.8},{"s":54,"x":0.268,"y":4.8},{"s":54,"x":0.317,"y":1.7},{"s":54,"x":0.366,"y":1.7},
{"s":55,"x":0.05,"y":7.35},{"s":55,"x":0.071,"y":7.35},{"s":55,"x":0.12,"y":7.0},{"s":55,"x":0.169,"y":7.0},{"s":55,"x":0.218,"y":7.0},{"s":55,"x":0.268,"y":6.9},{"s":55,"x":0.317,"y":3.6},{"s":55,"x":0.366,"y":3.6},
{"s":56,"x":0.05,"y":5.5},{"s":56,"x":0.071,"y":5.5},{"s":56,"x":0.12,"y":5.5},{"s":56,"x":0.169,"y":5.4},{"s":56,"x":0.218,"y":5.4},{"s":56,"x":0.268,"y":5.3},{"s":56,"x":0.317,"y":1.2},{"s":56,"x":0.366,"y":1.2},
{"s":57,"x":0.05,"y":7.9},{"s":57,"x":0.071,"y":7.9},{"s":57,"x":0.12,"y":4.6},{"s":57,"x":0.169,"y":4.6},{"s":57,"x":0.218,"y":4.6},{"s":57,"x":0.268,"y":4.4},{"s":57,"x":0.317,"y":1.5},{"s":57,"x":0.366,"y":1.5},
{"s":58,"x":0.05,"y":6.2},{"s":58,"x":0.071,"y":6.2},{"s":58,"x":0.12,"y":3.7},{"s":58,"x":0.169,"y":3.7},{"s":58,"x":0.218,"y":3.7},{"s":58,"x":0.268,"y":2.0},{"s":58,"x":0.317,"y":1.0},{"s":58,"x":0.366,"y":1.0},
{"s":59,"x":0.05,"y":5.6},{"s":59,"x":0.071,"y":5.6},{"s":59,"x":0.12,"y":4.9},{"s":59,"x":0.169,"y":4.9},{"s":59,"x":0.218,"y":4.9},{"s":59,"x":0.268,"y":4.7},{"s":59,"x":0.317,"y":3.58},{"s":59,"x":0.366,"y":3.2}
],
"Cs": [
{"t":"E","x":0.05,"y":3.4},{"t":"E","x":0.169,"y":3.4},{"t":"E","x":0.218,"y":1.9},{"t":"E","x":0.366,"y":1.9},
{"t":"W","x":0.05,"y":7.97},{"t":"W","x":0.071,"y":7.97},{"t":"W","x":0.12,"y":7.83},{"t":"W","x":0.218,"y":7.83},{"t":"W","x":0.268,"y":5.38},{"t":"W","x":0.317,"y":3.58},{"t":"W","x":0.366,"y":3.25},
{"t":"F","x":0.05,"y":7.97},{"t":"F","x":0.071,"y":7.97},{"t":"F","x":0.12,"y":7.83},{"t":"F","x":0.218,"y":7.83},{"t":"F","x":0.268,"y":7.55},{"t":"F","x":0.317,"y":3.58},{"t":"F","x":0.366,"y":3.58}
],
"D": [
{"s":1,"x":0.05,"y":22.2},{"s":1,"x":0.071,"y":22.2},{"s":1,"x":0.12,"y":22.1},{"s":1,"x":0.169,"y":20.8},{"s":1,"x":0.218,"y":20.8},{"s":1,"x":0.268,"y":17.0},{"s":1,"x":0.317,"y":10.6},{"s":1,"x":0.366,"y":9.8},
{"s":2,"x":0.05,"y":22.0},{"s":2,"x":0.071,"y":21.5},{"s":2,"x":0.12,"y":20.8},{"s":2,"x":0.169,"y":20.8},{"s":2,"x":0.218,"y":20.6},{"s":2,"x":0.268,"y":16.0},{"s":2,"x":0.317,"y":2.7},{"s":2,"x":0.366,"y":2.7},
{"s":3,"x":0.05,"y":21.3},{"s":3,"x":0.071,"y":21.3},{"s":3,"x":0.12,"y":20.8},{"s":3,"x":0.169,"y":20.5},{"s":3,"x":0.218,"y":20.3},{"s":3,"x":0.268,"y":18.0},{"s":3,"x":0.317,"y":10.6},{"s":3,"x":0.366,"y":10.0},
{"s":4,"x":0.05,"y":20.8},{"s":4,"x":0.071,"y":20.8},{"s":4,"x":0.12,"y":20.2},{"s":4,"x":0.169,"y":18.4},{"s":4,"x":0.218,"y":18.2},{"s":4,"x":0.268,"y":16.6},{"s":4,"x":0.317,"y":3.0},{"s":4,"x":0.366,"y":3.0},
{"s":5,"x":0.05,"y":20.0},{"s":5,"x":0.071,"y":20.0},{"s":5,"x":0.12,"y":19.3},{"s":5,"x":0.169,"y":18.3},{"s":5,"x":0.218,"y":18.0},{"s":5,"x":0.268,"y":14.0},{"s":5,"x":0.317,"y":10.6},{"s":5,"x":0.366,"y":9.6},
{"s":6,"x":0.05,"y":20.0},{"s":6,"x":0.071,"y":19.5},{"s":6,"x":0.12,"y":18.4},{"s":6,"x":0.169,"y":18.2},{"s":6,"x":0.218,"y":18.2},{"s":6,"x":0.268,"y":12.8},{"s":6,"x":0.317,"y":5.0},{"s":6,"x":0.366,"y":4.0},
{"s":7,"x":0.05,"y":19.2},{"s":7,"x":0.071,"y":19.2},{"s":7,"x":0.12,"y":18.0},{"s":7,"x":0.169,"y":17.8},{"s":7,"x":0.218,"y":16.8},{"s":7,"x":0.268,"y":15.0},{"s":7,"x":0.317,"y":2.7},{"s":7,"x":0.366,"y":2.7},
{"s":8,"x":0.05,"y":19.2},{"s":8,"x":0.071,"y":18.9},{"s":8,"x":0.12,"y":17.5},{"s":8,"x":0.169,"y":17.0},{"s":8,"x":0.218,"y":16.5},{"s":8,"x":0.268,"y":3.2},{"s":8,"x":0.317,"y":2.8},{"s":8,"x":0.366,"y":2.8},
{"s":9,"x":0.05,"y":18.3},{"s":9,"x":0.071,"y":18.3},{"s":9,"x":0.12,"y":18.3},{"s":9,"x":0.169,"y":18.2},{"s":9,"x":0.218,"y":18.0},{"s":9,"x":0.268,"y":11.0},{"s":9,"x":0.317,"y":10.5},{"s":9,"x":0.366,"y":8.0},
{"s":10,"x":0.05,"y":18.3},{"s":10,"x":0.071,"y":18.0},{"s":10,"x":0.12,"y":16.4},{"s":10,"x":0.169,"y":16.4},{"s":10,"x":0.218,"y":16.2},{"s":10,"x":0.268,"y":14.5},{"s":10,"x":0.317,"y":4.8},{"s":10,"x":0.366,"y":4.3},
{"s":11,"x":0.05,"y":17.6},{"s":11,"x":0.071,"y":17.6},{"s":11,"x":0.12,"y":16.0},{"s":11,"x":0.169,"y":15.8},{"s":11,"x":0.218,"y":15.0},{"s":11,"x":0.268,"y":2.9},{"s":11,"x":0.317,"y":2.7},{"s":11,"x":0.366,"y":2.7},
{"s":12,"x":0.05,"y":17.6},{"s":12,"x":0.071,"y":17.2},{"s":12,"x":0.12,"y":17.3},{"s":12,"x":0.169,"y":16.5},{"s":12,"x":0.218,"y":16.5},{"s":12,"x":0.268,"y":12.5},{"s":12,"x":0.317,"y":10.5},{"s":12,"x":0.366,"y":10.2},
{"s":13,"x":0.05,"y":16.5},{"s":13,"x":0.071,"y":16.5},{"s":13,"x":0.12,"y":16.5},{"s":13,"x":0.169,"y":16.3},{"s":13,"x":0.218,"y":16.0},{"s":13,"x":0.268,"y":15.6},{"s":13,"x":0.317,"y":5.8},{"s":13,"x":0.366,"y":3.5},
{"s":14,"x":0.05,"y":16.5},{"s":14,"x":0.071,"y":16.4},{"s":14,"x":0.12,"y":15.6},{"s":14,"x":0.169,"y":15.4},{"s":14,"x":0.218,"y":15.0},{"s":14,"x":0.268,"y":2.7},{"s":14,"x":0.317,"y":2.7},{"s":14,"x":0.366,"y":2.7},
{"s":15,"x":0.05,"y":16.4},{"s":15,"x":0.071,"y":16.4},{"s":15,"x":0.12,"y":15.7},{"s":15,"x":0.169,"y":15.5},{"s":15,"x":0.218,"y":14.5},{"s":15,"x":0.268,"y":12.3},{"s":15,"x":0.317,"y":10.8},{"s":15,"x":0.366,"y":9.5},
{"s":16,"x":0.05,"y":16.3},{"s":16,"x":0.071,"y":16.2},{"s":16,"x":0.12,"y":16.0},{"s":16,"x":0.169,"y":15.4},{"s":16,"x":0.218,"y":12.0},{"s":16,"x":0.268,"y":10.7},{"s":16,"x":0.317,"y":8.5},{"s":16,"x":0.366,"y":5.5},
{"s":17,"x":0.05,"y":15.8},{"s":17,"x":0.071,"y":15.8},{"s":17,"x":0.12,"y":15.0},{"s":17,"x":0.169,"y":14.6},{"s":17,"x":0.218,"y":14.2},{"s":17,"x":0.268,"y":12.0},{"s":17,"x":0.317,"y":4.0},{"s":17,"x":0.366,"y":3.6},
{"s":18,"x":0.05,"y":15.8},{"s":18,"x":0.071,"y":15.6},{"s":18,"x":0.12,"y":14.5},{"s":18,"x":0.169,"y":14.2},{"s":18,"x":0.218,"y":14.0},{"s":18,"x":0.268,"y":10.6},{"s":18,"x":0.317,"y":2.7},{"s":18,"x":0.366,"y":2.7},
{"s":19,"x":0.05,"y":15.6},{"s":19,"x":0.071,"y":15.6},{"s":19,"x":0.12,"y":15.2},{"s":19,"x":0.169,"y":14.8},{"s":19,"x":0.218,"y":14.0},{"s":19,"x":0.268,"y":13.5},{"s":19,"x":0.317,"y":10.6},{"s":19,"x":0.366,"y":9.4},
{"s":20,"x":0.05,"y":14.8},{"s":20,"x":0.071,"y":14.8},{"s":20,"x":0.12,"y":14.3},{"s":20,"x":0.169,"y":13.2},{"s":20,"x":0.218,"y":12.6},{"s":20,"x":0.268,"y":11.6},{"s":20,"x":0.317,"y":3.5},{"s":20,"x":0.366,"y":3.2},
{"s":21,"x":0.05,"y":14.8},{"s":21,"x":0.071,"y":14.7},{"s":21,"x":0.12,"y":13.2},{"s":21,"x":0.169,"y":12.8},{"s":21,"x":0.218,"y":12.2},{"s":21,"x":0.268,"y":11.2},{"s":21,"x":0.317,"y":2.7},{"s":21,"x":0.366,"y":2.7},
{"s":22,"x":0.05,"y":13.8},{"s":22,"x":0.071,"y":13.8},{"s":22,"x":0.12,"y":13.6},{"s":22,"x":0.169,"y":13.5},{"s":22,"x":0.218,"y":12.8},{"s":22,"x":0.268,"y":11.2},{"s":22,"x":0.317,"y":10.6},{"s":22,"x":0.366,"y":10.3},
{"s":23,"x":0.05,"y":13.8},{"s":23,"x":0.071,"y":13.8},{"s":23,"x":0.12,"y":12.8},{"s":23,"x":0.169,"y":12.4},{"s":23,"x":0.218,"y":12.0},{"s":23,"x":0.268,"y":11.8},{"s":23,"x":0.317,"y":7.0},{"s":23,"x":0.366,"y":4.8},
{"s":24,"x":0.05,"y":13.6},{"s":24,"x":0.071,"y":13.5},{"s":24,"x":0.12,"y":12.6},{"s":24,"x":0.169,"y":12.4},{"s":24,"x":0.218,"y":12.5},{"s":24,"x":0.268,"y":4.0},{"s":24,"x":0.317,"y":2.8},{"s":24,"x":0.366,"y":2.8},
{"s":25,"x":0.05,"y":12.6},{"s":25,"x":0.071,"y":12.6},{"s":25,"x":0.12,"y":12.3},{"s":25,"x":0.169,"y":12.0},{"s":25,"x":0.218,"y":11.6},{"s":25,"x":0.268,"y":10.5},{"s":25,"x":0.317,"y":10.6},{"s":25,"x":0.366,"y":9.8},
{"s":26,"x":0.05,"y":12.6},{"s":26,"x":0.071,"y":12.6},{"s":26,"x":0.12,"y":12.0},{"s":26,"x":0.169,"y":11.8},{"s":26,"x":0.218,"y":2.7},{"s":26,"x":0.268,"y":2.7},{"s":26,"x":0.317,"y":2.7},{"s":26,"x":0.366,"y":2.7},
{"s":27,"x":0.05,"y":11.3},{"s":27,"x":0.071,"y":11.3},{"s":27,"x":0.12,"y":10.4},{"s":27,"x":0.169,"y":9.5},{"s":27,"x":0.218,"y":9.0},{"s":27,"x":0.268,"y":8.3},{"s":27,"x":0.317,"y":6.0},{"s":27,"x":0.366,"y":3.8},
{"s":28,"x":0.05,"y":11.3},{"s":28,"x":0.071,"y":11.3},{"s":28,"x":0.12,"y":11.0},{"s":28,"x":0.169,"y":10.8},{"s":28,"x":0.218,"y":10.8},{"s":28,"x":0.268,"y":10.6},{"s":28,"x":0.317,"y":10.6},{"s":28,"x":0.366,"y":10.0},
{"s":29,"x":0.05,"y":10.1},{"s":29,"x":0.071,"y":10.1},{"s":29,"x":0.12,"y":9.6},{"s":29,"x":0.169,"y":8.8},{"s":29,"x":0.218,"y":8.8},{"s":29,"x":0.268,"y":8.5},{"s":29,"x":0.317,"y":8.3},{"s":29,"x":0.366,"y":6.3},
{"s":30,"x":0.05,"y":10.1},{"s":30,"x":0.071,"y":10.1},{"s":30,"x":0.12,"y":9.4},{"s":30,"x":0.169,"y":9.4},{"s":30,"x":0.218,"y":9.4},{"s":30,"x":0.268,"y":6.5},{"s":30,"x":0.317,"y":4.8},{"s":30,"x":0.366,"y":3.5},
{"s":31,"x":0.05,"y":8.4},{"s":31,"x":0.071,"y":8.4},{"s":31,"x":0.12,"y":5.8},{"s":31,"x":0.169,"y":5.8},{"s":31,"x":0.218,"y":5.6},{"s":31,"x":0.268,"y":5.6},{"s":31,"x":0.317,"y":5.6},{"s":31,"x":0.366,"y":5.2},
{"s":32,"x":0.05,"y":8.4},{"s":32,"x":0.071,"y":8.4},{"s":32,"x":0.12,"y":8.0},{"s":32,"x":0.169,"y":7.7},{"s":32,"x":0.218,"y":7.4},{"s":32,"x":0.268,"y":6.5},{"s":32,"x":0.317,"y":5.9},{"s":32,"x":0.366,"y":5.9},
{"s":33,"x":0.05,"y":8.4},{"s":33,"x":0.071,"y":8.4},{"s":33,"x":0.12,"y":7.6},{"s":33,"x":0.169,"y":6.5},{"s":33,"x":0.218,"y":6.0},{"s":33,"x":0.268,"y":5.8},{"s":33,"x":0.317,"y":5.6},{"s":33,"x":0.366,"y":5.6},
{"s":34,"x":0.05,"y":8.4},{"s":34,"x":0.071,"y":8.4},{"s":34,"x":0.12,"y":7.8},{"s":34,"x":0.169,"y":7.6},{"s":34,"x":0.218,"y":2.7},{"s":34,"x":0.268,"y":2.7},{"s":34,"x":0.317,"y":2.7},{"s":34,"x":0.366,"y":2.7},
{"s":35,"x":0.05,"y":19.8},{"s":35,"x":0.071,"y":19.8},{"s":35,"x":0.12,"y":19.0},{"s":35,"x":0.169,"y":18.0},{"s":35,"x":0.218,"y":17.5},{"s":35,"x":0.268,"y":17.7},{"s":35,"x":0.317,"y":3.2},{"s":35,"x":0.366,"y":3.2},
{"s":36,"x":0.05,"y":21.0},{"s":36,"x":0.071,"y":21.0},{"s":36,"x":0.12,"y":20.4},{"s":36,"x":0.169,"y":20.2},{"s":36,"x":0.218,"y":20.0},{"s":36,"x":0.268,"y":16.8},{"s":36,"x":0.317,"y":10.6},{"s":36,"x":0.366,"y":10.1},
{"s":37,"x":0.05,"y":16.6},{"s":37,"x":0.071,"y":16.6},{"s":37,"x":0.12,"y":16.0},{"s":37,"x":0.169,"y":16.0},{"s":37,"x":0.218,"y":15.8},{"s":37,"x":0.268,"y":15.0},{"s":37,"x":0.317,"y":4.4},{"s":37,"x":0.366,"y":3.2},
{"s":38,"x":0.05,"y":15.4},{"s":38,"x":0.071,"y":15.4},{"s":38,"x":0.12,"y":14.8},{"s":38,"x":0.169,"y":14.8},{"s":38,"x":0.218,"y":12.5},{"s":38,"x":0.268,"y":12.0},{"s":38,"x":0.317,"y":11.0},{"s":38,"x":0.366,"y":7.5},
{"s":39,"x":0.05,"y":17.0},{"s":39,"x":0.071,"y":16.8},{"s":39,"x":0.12,"y":15.0},{"s":39,"x":0.169,"y":14.8},{"s":39,"x":0.218,"y":14.5},{"s":39,"x":0.268,"y":5.5},{"s":39,"x":0.317,"y":3.0},{"s":39,"x":0.366,"y":3.0},
{"s":40,"x":0.05,"y":19.3},{"s":40,"x":0.071,"y":19.3},{"s":40,"x":0.12,"y":18.2},{"s":40,"x":0.169,"y":18.3},{"s":40,"x":0.218,"y":18.0},{"s":40,"x":0.268,"y":16.6},{"s":40,"x":0.317,"y":10.6},{"s":40,"x":0.366,"y":9.0},
{"s":41,"x":0.05,"y":14.0},{"s":41,"x":0.071,"y":14.0},{"s":41,"x":0.12,"y":13.8},{"s":41,"x":0.169,"y":13.0},{"s":41,"x":0.218,"y":13.0},{"s":41,"x":0.268,"y":12.7},{"s":41,"x":0.317,"y":3.8},{"s":41,"x":0.366,"y":3.6},
{"s":42,"x":0.05,"y":13.0},{"s":42,"x":0.071,"y":13.0},{"s":42,"x":0.12,"y":12.8},{"s":42,"x":0.169,"y":12.4},{"s":42,"x":0.218,"y":12.2},{"s":42,"x":0.268,"y":12.0},{"s":42,"x":0.317,"y":10.5},{"s":42,"x":0.366,"y":8.6},
{"s":43,"x":0.05,"y":16.2},{"s":43,"x":0.071,"y":16.2},{"s":43,"x":0.12,"y":15.0},{"s":43,"x":0.169,"y":14.5},{"s":43,"x":0.218,"y":13.2},{"s":43,"x":0.268,"y":2.7},{"s":43,"x":0.317,"y":2.7},{"s":43,"x":0.366,"y":2.7},
{"s":44,"x":0.05,"y":18.5},{"s":44,"x":0.071,"y":18.2},{"s":44,"x":0.12,"y":16.8},{"s":44,"x":0.169,"y":16.6},{"s":44,"x":0.218,"y":16.0},{"s":44,"x":0.268,"y":15.5},{"s":44,"x":0.317,"y":10.6},{"s":44,"x":0.366,"y":10.3},
{"s":45,"x":0.05,"y":20.6},{"s":45,"x":0.071,"y":20.6},{"s":45,"x":0.12,"y":17.0},{"s":45,"x":0.169,"y":16.8},{"s":45,"x":0.218,"y":16.5},{"s":45,"x":0.268,"y":16.5},{"s":45,"x":0.317,"y":10.6},{"s":45,"x":0.366,"y":10.4},
{"s":46,"x":0.05,"y":21.5},{"s":46,"x":0.071,"y":21.5},{"s":46,"x":0.12,"y":20.0},{"s":46,"x":0.169,"y":18.6},{"s":46,"x":0.218,"y":18.4},{"s":46,"x":0.268,"y":18.0},{"s":46,"x":0.317,"y":2.7},{"s":46,"x":0.366,"y":2.7},
{"s":47,"x":0.05,"y":18.0},{"s":47,"x":0.071,"y":18.0},{"s":47,"x":0.12,"y":17.0},{"s":47,"x":0.169,"y":16.8},{"s":47,"x":0.218,"y":16.8},{"s":47,"x":0.268,"y":16.2},{"s":47,"x":0.317,"y":2.7},{"s":47,"x":0.366,"y":2.7},
{"s":48,"x":0.05,"y":16.8},{"s":48,"x":0.071,"y":16.8},{"s":48,"x":0.12,"y":16.2},{"s":48,"x":0.169,"y":16.0},{"s":48,"x":0.218,"y":15.9},{"s":48,"x":0.268,"y":15.4},{"s":48,"x":0.317,"y":10.6},{"s":48,"x":0.366,"y":10.0},
{"s":49,"x":0.05,"y":15.0},{"s":49,"x":0.071,"y":15.0},{"s":49,"x":0.12,"y":14.6},{"s":49,"x":0.169,"y":14.4},{"s":49,"x":0.218,"y":14.2},{"s":49,"x":0.268,"y":13.5},{"s":49,"x":0.317,"y":2.9},{"s":49,"x":0.366,"y":2.9},
{"s":50,"x":0.05,"y":14.3},{"s":50,"x":0.071,"y":14.2},{"s":50,"x":0.12,"y":14.0},{"s":50,"x":0.169,"y":13.6},{"s":50,"x":0.218,"y":13.5},{"s":50,"x":0.268,"y":13.0},{"s":50,"x":0.317,"y":10.6},{"s":50,"x":0.366,"y":9.6},
{"s":51,"x":0.05,"y":13.2},{"s":51,"x":0.071,"y":13.2},{"s":51,"x":0.12,"y":12.8},{"s":51,"x":0.169,"y":12.6},{"s":51,"x":0.218,"y":12.4},{"s":51,"x":0.268,"y":2.8},{"s":51,"x":0.317,"y":2.7},{"s":51,"x":0.366,"y":2.7},
{"s":52,"x":0.05,"y":17.2},{"s":52,"x":0.071,"y":17.2},{"s":52,"x":0.12,"y":16.6},{"s":52,"x":0.169,"y":16.2},{"s":52,"x":0.218,"y":16.0},{"s":52,"x":0.268,"y":12.8},{"s":52,"x":0.317,"y":10.6},{"s":52,"x":0.366,"y":10.2},
{"s":53,"x":0.05,"y":19.6},{"s":53,"x":0.071,"y":19.6},{"s":53,"x":0.12,"y":18.8},{"s":53,"x":0.169,"y":18.0},{"s":53,"x":0.218,"y":17.8},{"s":53,"x":0.268,"y":17.0},{"s":53,"x":0.317,"y":10.6},{"s":53,"x":0.366,"y":9.8},
{"s":54,"x":0.05,"y":16.0},{"s":54,"x":0.071,"y":16.0},{"s":54,"x":0.12,"y":15.4},{"s":54,"x":0.169,"y":15.0},{"s":54,"x":0.218,"y":14.8},{"s":54,"x":0.268,"y":14.0},{"s":54,"x":0.317,"y":3.2},{"s":54,"x":0.366,"y":2.8},
{"s":55,"x":0.05,"y":12.0},{"s":55,"x":0.071,"y":12.0},{"s":55,"x":0.12,"y":11.6},{"s":55,"x":0.169,"y":11.4},{"s":55,"x":0.218,"y":11.2},{"s":55,"x":0.268,"y":10.8},{"s":55,"x":0.317,"y":10.6},{"s":55,"x":0.366,"y":9.9},
{"s":56,"x":0.05,"y":15.2},{"s":56,"x":0.071,"y":15.2},{"s":56,"x":0.12,"y":14.6},{"s":56,"x":0.169,"y":14.4},{"s":56,"x":0.218,"y":14.3},{"s":56,"x":0.268,"y":14.0},{"s":56,"x":0.317,"y":5.0},{"s":56,"x":0.366,"y":3.0},
{"s":57,"x":0.05,"y":20.4},{"s":57,"x":0.071,"y":20.4},{"s":57,"x":0.12,"y":19.5},{"s":57,"x":0.169,"y":18.8},{"s":57,"x":0.218,"y":18.6},{"s":57,"x":0.268,"y":12.0},{"s":57,"x":0.317,"y":2.7},{"s":57,"x":0.366,"y":2.7}
],
"Ds": [
{"t":"E","x":0.05,"y":8.4},{"t":"E","x":0.169,"y":8.4},{"t":"E","x":0.218,"y":5.5},{"t":"E","x":0.366,"y":5.5},
{"t":"W","x":0.05,"y":24.7},{"t":"W","x":0.12,"y":24.7},{"t":"W","x":0.169,"y":21.9},{"t":"W","x":0.218,"y":21.7},{"t":"W","x":0.268,"y":15.4},{"t":"W","x":0.317,"y":10.7},{"t":"W","x":0.366,"y":5.8},
{"t":"F","x":0.05,"y":29.0},{"t":"F","x":0.12,"y":29.0},{"t":"F","x":0.169,"y":26.0},{"t":"F","x":0.218,"y":24.7},{"t":"F","x":0.268,"y":23.6},{"t":"F","x":0.317,"y":10.54},{"t":"F","x":0.366,"y":10.54}
]
},
"vconcat": [
{
"spacing": 50,
"resolve": {"scale": {"color": "shared", "strokeDash": "shared"}, "legend": {"color": "shared", "strokeDash": "shared"}},
"hconcat": [
{
 "title": "A Aerob, MDF", "width": 556, "height": 425,
 "layer": [
  {"data": {"name": "A"}, "mark": {"type": "line", "strokeWidth": 1.6},
   "encoding": {
    "x": {"field": "x", "type": "quantitative", "scale": {"domain": [0.05, 0.866], "nice": false, "zero": false}, "axis": {"values": [0.1,0.2,0.3,0.4,0.5,0.6,0.7,0.8], "format": ".1f", "title": "Wachstumsrate [h⁻¹]"}},
    "y": {"field": "y", "type": "quantitative", "scale": {"domain": [0, 8.22], "nice": false}, "axis": {"values": [0,1,2,3,4,5,6,7,8], "format": "d", "title": "MDF [kJ/mol]"}},
    "detail": {"field": "s", "type": "nominal"},
    "color": {"datum": "Z", "type": "nominal", "scale": {"domain": ["Z","E","W","F"], "range": ["#afeeee","#ff0000","#000000","#9acd32"]},
      "legend": {"title": null, "orient": "none", "legendX": 456, "legendY": -133, "fillColor": "white", "strokeColor": "#cccccc", "padding": 6.7, "cornerRadius": 3, "labelFontSize": 16.67, "labelFont": "DejaVu Sans", "labelColor": "black", "symbolType": "M-2,0L2,0", "symbolSize": 278, "symbolOffset": 8.3, "labelOffset": 23, "rowPadding": 6.7, "labelLimit": 0,
        "symbolStrokeWidth": {"expr": "datum.value == 'Z' ? 1.6 : 3.3"},
        "labelExpr": "datum.label == 'Z' ? 'Zufällige Spezifitäten' : datum.label == 'E' ? 'Einzelcofaktor-Spezifität' : datum.label == 'W' ? 'Wildtyp-Spezifität' : 'Flexible Spezifität'"}},
    "strokeDash": {"datum": "Z", "type": "nominal", "legend": {"title": null}, "scale": {"domain": ["Z","E","W","F"], "range": [[1,0],[1,0],[1,0],[12.3,5.3]]}}
   }},
  {"data": {"name": "As"}, "mark": {"type": "line", "strokeWidth": 3.3},
   "encoding": {
    "x": {"field": "x", "type": "quantitative"},
    "y": {"field": "y", "type": "quantitative"},
    "color": {"field": "t", "type": "nominal", "legend": {"title": null}},
    "strokeDash": {"field": "t", "type": "nominal", "legend": {"title": null}}
   }}
 ]
},
{
 "title": {"text": "B Aerob, SubMDF", "offset": 1.7}, "width": 556, "height": 425,
 "layer": [
  {"data": {"name": "B"}, "mark": {"type": "line", "strokeWidth": 1.6},
   "encoding": {
    "x": {"field": "x", "type": "quantitative", "scale": {"domain": [0.05, 0.866], "nice": false, "zero": false}, "axis": {"values": [0.1,0.2,0.3,0.4,0.5,0.6,0.7,0.8], "format": ".1f", "title": "Wachstumsrate [h⁻¹]"}},
    "y": {"field": "y", "type": "quantitative", "scale": {"domain": [0, 30], "nice": false}, "axis": {"values": [0,5,10,15,20,25,30], "format": "d", "title": "SubMDF [kJ/mol]"}},
    "detail": {"field": "s", "type": "nominal"},
    "color": {"datum": "Z", "type": "nominal", "legend": {"title": null}},
    "strokeDash": {"datum": "Z", "type": "nominal", "legend": {"title": null}}
   }},
  {"data": {"name": "Bs"}, "mark": {"type": "line", "strokeWidth": 3.3},
   "encoding": {
    "x": {"field": "x", "type": "quantitative"},
    "y": {"field": "y", "type": "quantitative"},
    "color": {"field": "t", "type": "nominal", "legend": {"title": null}},
    "strokeDash": {"field": "t", "type": "nominal", "legend": {"title": null}}
   }}
 ]
}
]
},
{
"spacing": 50,
"resolve": {"scale": {"color": "shared", "strokeDash": "shared"}, "legend": {"color": "shared", "strokeDash": "shared"}},
"hconcat": [
{
 "title": "C Anaerob, MDF", "width": 556, "height": 425,
 "layer": [
  {"data": {"name": "C"}, "mark": {"type": "line", "strokeWidth": 1.6},
   "encoding": {
    "x": {"field": "x", "type": "quantitative", "scale": {"domain": [0.05, 0.366], "nice": false, "zero": false}, "axis": {"values": [0.05,0.1,0.15,0.2,0.25,0.3,0.35], "format": ".2f", "title": "Wachstumsrate [h⁻¹]"}},
    "y": {"field": "y", "type": "quantitative", "scale": {"domain": [0, 8.21], "nice": false}, "axis": {"values": [0,1,2,3,4,5,6,7,8], "format": "d", "title": "MDF [kJ/mol]"}},
    "detail": {"field": "s", "type": "nominal"},
    "color": {"datum": "Z", "type": "nominal", "legend": {"title": null}},
    "strokeDash": {"datum": "Z", "type": "nominal", "legend": {"title": null}}
   }},
  {"data": {"name": "Cs"}, "mark": {"type": "line", "strokeWidth": 3.3},
   "encoding": {
    "x": {"field": "x", "type": "quantitative"},
    "y": {"field": "y", "type": "quantitative"},
    "color": {"field": "t", "type": "nominal", "legend": {"title": null}},
    "strokeDash": {"field": "t", "type": "nominal", "legend": {"title": null}}
   }}
 ]
},
{
 "title": {"text": "D Anaerob, SubMDF", "offset": 1.7}, "width": 556, "height": 425,
 "layer": [
  {"data": {"name": "D"}, "mark": {"type": "line", "strokeWidth": 1.6},
   "encoding": {
    "x": {"field": "x", "type": "quantitative", "scale": {"domain": [0.05, 0.366], "nice": false, "zero": false}, "axis": {"values": [0.05,0.1,0.15,0.2,0.25,0.3,0.35], "format": ".2f", "title": "Wachstumsrate [h⁻¹]"}},
    "y": {"field": "y", "type": "quantitative", "scale": {"domain": [0, 30], "nice": false}, "axis": {"values": [0,5,10,15,20,25,30], "format": "d", "title": "SubMDF [kJ/mol]"}},
    "detail": {"field": "s", "type": "nominal"},
    "color": {"datum": "Z", "type": "nominal", "legend": {"title": null}},
    "strokeDash": {"datum": "Z", "type": "nominal", "legend": {"title": null}}
   }},
  {"data": {"name": "Ds"}, "mark": {"type": "line", "strokeWidth": 3.3},
   "encoding": {
    "x": {"field": "x", "type": "quantitative"},
    "y": {"field": "y", "type": "quantitative"},
    "color": {"field": "t", "type": "nominal", "legend": {"title": null}},
    "strokeDash": {"field": "t", "type": "nominal", "legend": {"title": null}}
   }}
 ]
}
]
}
]
}
